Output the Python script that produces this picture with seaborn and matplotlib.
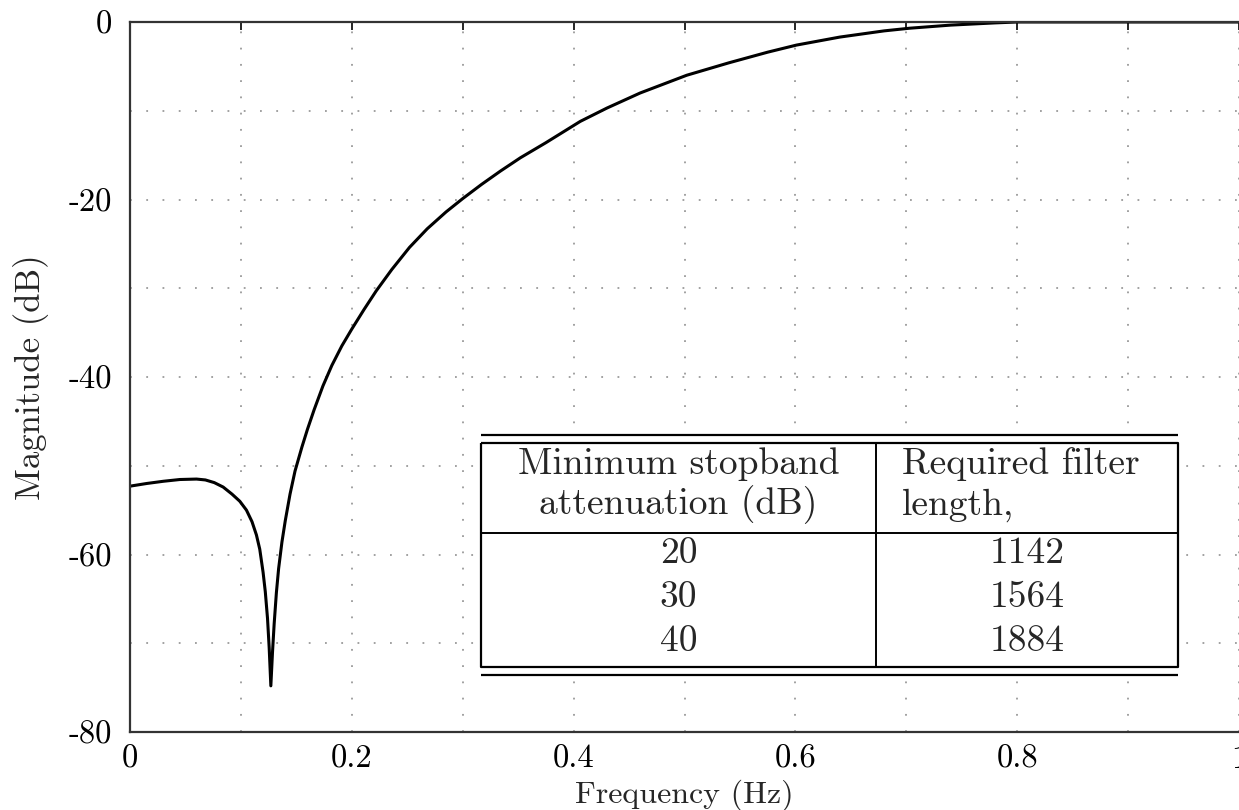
import matplotlib
matplotlib.use("Agg")
import matplotlib.pyplot as plt
import seaborn as sns
import pandas as pd

# ---- data ----
freq = [0.0, 0.015, 0.03, 0.045, 0.06, 0.068, 0.076, 0.084, 0.092, 0.099, 0.105,
        0.110, 0.114, 0.117, 0.120, 0.122, 0.124, 0.1255, 0.127, 0.1285, 0.130,
        0.132, 0.134, 0.137, 0.140, 0.1443, 0.1488, 0.155, 0.160, 0.166, 0.174,
        0.182, 0.191, 0.200, 0.211, 0.222, 0.236, 0.252, 0.268, 0.285, 0.300,
        0.317, 0.334, 0.352, 0.375, 0.406, 0.430, 0.460, 0.502, 0.540, 0.575,
        0.601, 0.640, 0.680, 0.703, 0.740, 0.780, 0.800, 0.850, 0.900, 0.950, 1.0]
mag_db = [-52.3, -52.0, -51.75, -51.55, -51.5, -51.6, -51.9, -52.4, -53.2, -54.0, -55.0,
          -56.3, -57.8, -59.4, -62.0, -64.2, -67.2, -70.5, -74.8, -71.0, -67.8,
          -64.3, -61.6, -58.6, -56.2, -53.2, -50.6, -47.9, -45.9, -43.7, -41.0,
          -38.7, -36.5, -34.6, -32.4, -30.3, -27.9, -25.4, -23.3, -21.4, -19.9,
          -18.3, -16.8, -15.3, -13.6, -11.2, -9.7, -8.0, -6.0, -4.6, -3.4,
          -2.6, -1.7, -1.0, -0.7, -0.35, -0.1, 0.0, 0.0, 0.0, 0.0, 0.0]

x_ticks = [0, 0.1, 0.2, 0.3, 0.4, 0.5, 0.6, 0.7, 0.8, 0.9, 1.0]
x_tick_labels = ["0", "", "0.2", "", "0.4", "", "0.6", "", "0.8", "", "1"]
y_ticks = [-80, -70, -60, -50, -40, -30, -20, -10, 0]
y_tick_labels = ["-80", "", "-60", "", "-40", "", "-20", "", "0"]

table_header_left = ["Minimum stopband", "attenuation (dB)"]
table_header_right = ["Required filter", "length,"]
table_atten = ["20", "30", "40"]
table_length = ["1142", "1564", "1884"]

# ---- style ----
sns.set_style("white")
plt.rcParams["font.family"] = ["cmr10", "DejaVu Serif"]
plt.rcParams["axes.unicode_minus"] = False
plt.rcParams["axes.formatter.use_mathtext"] = True

fig = plt.figure(figsize=(12.39, 8.10), dpi=100)
ax = fig.add_axes([130 / 1239, 1 - 732 / 810, 1109 / 1239, 710 / 810])

df = pd.DataFrame({"Frequency": freq, "Magnitude": mag_db})
sns.lineplot(data=df, x="Frequency", y="Magnitude", ax=ax, color="black",
             linewidth=2.2, sort=False, estimator=None)

ax.set_xlim(0, 1)
ax.set_ylim(-80, 0)
ax.set_xticks(x_ticks)
ax.set_xticklabels(x_tick_labels)
ax.set_yticks(y_ticks)
ax.set_yticklabels(y_tick_labels)
ax.tick_params(axis="both", direction="in", length=6, width=1.2, labelsize=23.5,
               top=True, right=False, colors="black")
ax.tick_params(axis="x", pad=9)
ax.tick_params(axis="y", pad=13)
ax.grid(True, color="#9a9a9a", linestyle=(0, (1, 8)), linewidth=1.3)

for side in ["left", "bottom", "top"]:
    ax.spines[side].set_visible(True)
    ax.spines[side].set_color("#333333")
    ax.spines[side].set_linewidth(1.6)
ax.spines["right"].set_visible(False)

ax.set_xlabel("Frequency (Hz)", fontsize=23, labelpad=4)
ax.set_ylabel("Magnitude (dB)", fontsize=25, labelpad=14)

# ---- inset table ----
def fx(px):
    return (px - 130) / 1109

def fy(py):
    return (732 - py) / 710

L, R, D = fx(481), fx(1178), fx(876)
t_rule, t_box, h_sep, b_box, b_rule = fy(435), fy(442.5), fy(533), fy(666.5), fy(675)
bg = plt.Rectangle((L, b_rule - 0.005), R - L, t_rule - b_rule + 0.01,
                   transform=ax.transAxes, facecolor="white", edgecolor="none", zorder=4)
ax.add_patch(bg)
lk = dict(transform=ax.transAxes, color="black", zorder=5, solid_capstyle="butt")
ax.plot([L, R], [t_rule, t_rule], lw=1.6, **lk)
ax.plot([L, R], [b_rule, b_rule], lw=1.6, **lk)
ax.plot([L, R, R, L, L], [t_box, t_box, b_box, b_box, t_box], lw=1.6, **lk)
ax.plot([L, R], [h_sep, h_sep], lw=1.4, **lk)
ax.plot([D, D], [t_box, b_box], lw=1.4, **lk)

tk = dict(transform=ax.transAxes, fontsize=27, zorder=6, va="center")
cl = (L + D) / 2
cr = (D + R) / 2
for txt, py in zip(table_header_left, [464, 505]):
    ax.text(cl, fy(py), txt, ha="center", **tk)
for txt, py in zip(table_header_right, [464, 505]):
    ax.text(fx(902), fy(py), txt, ha="left", **tk)
for a, n, py in zip(table_atten, table_length, [553, 597, 641]):
    ax.text(cl, fy(py), a, ha="center", **tk)
    ax.text(cr, fy(py), n, ha="center", **tk)

fig.savefig("out.png", dpi=100)
